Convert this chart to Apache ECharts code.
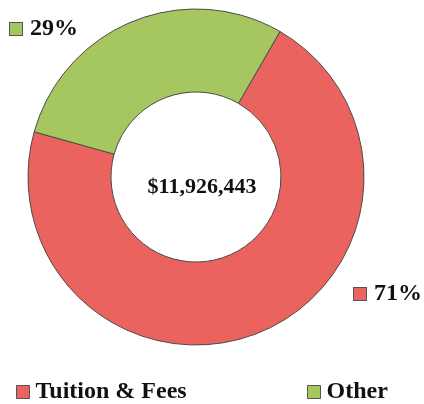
<!DOCTYPE html>
<html>
<head>
<meta charset="utf-8">
<script src="https://cdn.jsdelivr.net/npm/echarts@6/dist/echarts.min.js"></script>
<style>html,body{margin:0;padding:0;background:#fff}#c{width:424px;height:404px}</style>
</head>
<body>
<div id="c"></div>
<script>
const categories = ['Tuition & Fees', 'Other'];
const values = [71, 29];
const colors = ['#eb635f', '#a6c65f'];
const totalLabel = '$11,926,443';

const FONT = '"Liberation Serif", "Times New Roman", serif';
const labelPos = [
  {x: 354, y: 294},
  {x: 10, y: 29}
];

const chart = echarts.init(document.getElementById('c'), null, {renderer: 'canvas'});
const rich = {
  t: {fontFamily: FONT, fontWeight: 'bold', fontSize: 24, color: '#111', padding: [0, 0, 0, 8]}
};
categories.forEach((c, i) => {
  rich['sq' + i] = {width: 12, height: 12, backgroundColor: colors[i], borderColor: '#555', borderWidth: 1};
});

chart.setOption({
  animation: false,
  title: {
    text: totalLabel,
    left: 197, top: 182,
    textAlign: 'center', textVerticalAlign: 'middle',
    textStyle: {fontFamily: FONT, fontWeight: 'bold', fontSize: 22, color: '#111'}
  },
  legend: categories.map((c, i) => ({
    data: [c],
    left: i === 0 ? 16 : 307,
    top: 380,
    padding: 0,
    icon: 'rect',
    itemWidth: 13, itemHeight: 13,
    itemStyle: {borderColor: '#555', borderWidth: 1},
    textStyle: {fontFamily: FONT, fontWeight: 'bold', fontSize: 24, color: '#111', padding: [0, 0, 0, 1]},
    selectedMode: false
  })),
  series: [{
    type: 'pie',
    center: [196, 177],
    radius: [85, 168],
    startAngle: 60,
    clockwise: true,
    emphasis: {disabled: true},
    itemStyle: {borderColor: '#4a4a4a', borderWidth: 1},
    label: {
      show: true,
      position: 'outside',
      formatter: p => '{sq' + p.dataIndex + '| }{t|' + Math.round(p.percent) + '%}',
      rich: rich
    },
    labelLine: {show: false},
    labelLayout: p => ({x: labelPos[p.dataIndex].x, y: labelPos[p.dataIndex].y, align: 'left', verticalAlign: 'middle'}),
    data: categories.map((c, i) => ({name: c, value: values[i], itemStyle: {color: colors[i]}}))
  }]
});
</script>
</body>
</html>
